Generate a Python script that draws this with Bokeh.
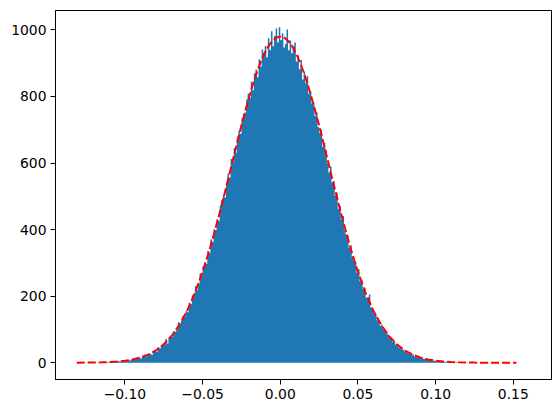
from bokeh.plotting import figure
from bokeh.models import Range1d, FixedTicker
from bokeh.embed import file_html
from bokeh.resources import INLINE

# Histogram: bins of equal width starting at bin_start
bin_start = -0.131
bin_width = 0.001
counts = [
    1, 0, 0, 0, 0, 0, 1, 0, 0, 1,
    0, 1, 0, 1, 0, 2, 1, 1, 2, 1,
    2, 1, 3, 4, 2, 3, 5, 4, 3, 6,
    6, 4, 8, 9, 7, 10, 12, 9, 15, 13,
    16, 13, 20, 25, 19, 22, 28, 26, 24, 35,
    37, 33, 47, 43, 52, 51, 55, 71, 58, 75,
    80, 78, 95, 93, 98, 122, 114, 127, 141, 138,
    155, 152, 180, 176, 203, 199, 230, 218, 236, 268,
    262, 291, 301, 297, 336, 329, 370, 362, 401, 399,
    431, 425, 472, 488, 505, 497, 540, 568, 556, 612,
    602, 645, 631, 679, 697, 688, 735, 748, 752, 790,
    808, 795, 844, 819, 870, 881, 858, 912, 890, 941,
    931, 952, 918, 975, 940, 996, 951, 982, 1004, 962,
    1008, 969, 990, 947, 958, 1001, 939, 968, 930, 950,
    962, 905, 923, 882, 910, 851, 874, 840, 861, 808,
    815, 779, 781, 742, 752, 708, 690, 700, 649, 660,
    637, 598, 571, 590, 540, 546, 502, 511, 463, 471,
    430, 441, 398, 385, 381, 345, 352, 318, 306, 302,
    270, 281, 245, 249, 220, 224, 195, 190, 205, 166,
    158, 147, 146, 128, 129, 111, 114, 98, 97, 86,
    85, 74, 73, 63, 64, 53, 56, 46, 47, 40,
    39, 33, 35, 27, 30, 23, 25, 19, 21, 16,
    17, 13, 15, 11, 12, 9, 10, 7, 8, 6,
    7, 5, 6, 3, 5, 4, 2, 3, 3, 2,
    2, 1, 2, 1, 2, 0, 1, 1, 0, 1,
    0, 1, 0, 0, 1, 0, 0, 0, 1, 0,
    0, 0, 0, 1, 0, 0, 0, 0, 0, 0,
    0, 0, 0, 0, 0, 0, 0, 0, 0, 0,
    0, 0, 1,
]

# Fitted density curve (red dashed)
curve_x = [-0.131, -0.130, -0.125, -0.120, -0.115, -0.110, -0.105, -0.100, -0.095,
           -0.090, -0.085, -0.080, -0.075, -0.070, -0.065, -0.060, -0.055, -0.050,
           -0.045, -0.040, -0.035, -0.030, -0.0275, -0.025, -0.0225, -0.020, -0.0175,
           -0.015, -0.0125, -0.010, -0.0075, -0.005, -0.0025, 0.0, 0.0025, 0.005,
           0.0075, 0.010, 0.0125, 0.015, 0.0175, 0.020, 0.0225, 0.025, 0.0275, 0.030,
           0.035, 0.040, 0.045, 0.050, 0.055, 0.060, 0.065, 0.070, 0.075, 0.080,
           0.085, 0.090, 0.095, 0.100, 0.105, 0.110, 0.115, 0.120, 0.125, 0.130,
           0.135, 0.140, 0.145, 0.150, 0.152]
curve_y = [0.14, 0.17, 0.34, 0.63, 1.1, 2.0, 3.5, 5.9, 9.8,
           15.7, 24.5, 37.3, 55.4, 80.2, 113.2, 155.7, 208.9, 273.1,
           348.1, 432.7, 524.1, 618.8, 666.2, 713.1, 756.8, 799.2, 838.2,
           873.6, 904.9, 931.2, 952.3, 967.6, 976.9, 980.0, 976.9, 967.6,
           952.3, 931.2, 904.9, 873.6, 838.2, 799.2, 756.8, 713.1, 666.2, 618.8,
           524.1, 432.7, 348.1, 273.1, 208.9, 155.7, 113.2, 80.2, 55.4, 37.3,
           24.5, 15.7, 9.8, 5.9, 3.5, 2.0, 1.1, 0.63, 0.34, 0.17,
           0.09, 0.04, 0.02, 0.01, 0.01]

x_ticks = [-0.10, -0.05, 0.0, 0.05, 0.10, 0.15]
x_tick_labels = ["\u22120.10", "\u22120.05", "0.00", "0.05", "0.10", "0.15"]
y_ticks = [0, 200, 400, 600, 800, 1000]

ymax = max(counts)
p = figure(
    frame_width=496, frame_height=369,
    min_border_left=55, min_border_right=1, min_border_top=10, min_border_bottom=32,
    x_range=Range1d(-0.1447, 0.1746),
    y_range=Range1d(-0.05 * ymax, 1.05 * ymax),
    output_backend="svg", toolbar_location=None,
)
p.background_fill_color = "white"
p.border_fill_color = "white"
p.outline_line_color = "black"
p.outline_line_width = 1
p.xgrid.visible = False
p.ygrid.visible = False

edges = [bin_start + i * bin_width for i in range(len(counts) + 1)]
p.varea_step(x=edges, y1=[0] * len(edges), y2=counts + [counts[-1]], step_mode="after",
             fill_color="#1f77b4")

p.line(curve_x, curve_y, line_color="#ff0000", line_width=2, line_dash="8 3")

p.xaxis.ticker = FixedTicker(ticks=x_ticks)
p.xaxis.major_label_overrides = {t: l for t, l in zip(x_ticks, x_tick_labels)}
p.yaxis.ticker = FixedTicker(ticks=y_ticks)

for ax in (p.xaxis, p.yaxis):
    ax.major_label_text_font = "DejaVu Sans"
    ax.major_label_text_font_size = "13.9px"
    ax.major_label_text_color = "black"
    ax.axis_line_color = "black"
    ax.axis_line_width = 1
    ax.major_tick_line_color = "black"
    ax.major_tick_in = 0
    ax.major_tick_out = 5
    ax.minor_tick_line_color = None
    ax.major_label_standoff = 4

open("out.html", "w").write(file_html(p, INLINE))
